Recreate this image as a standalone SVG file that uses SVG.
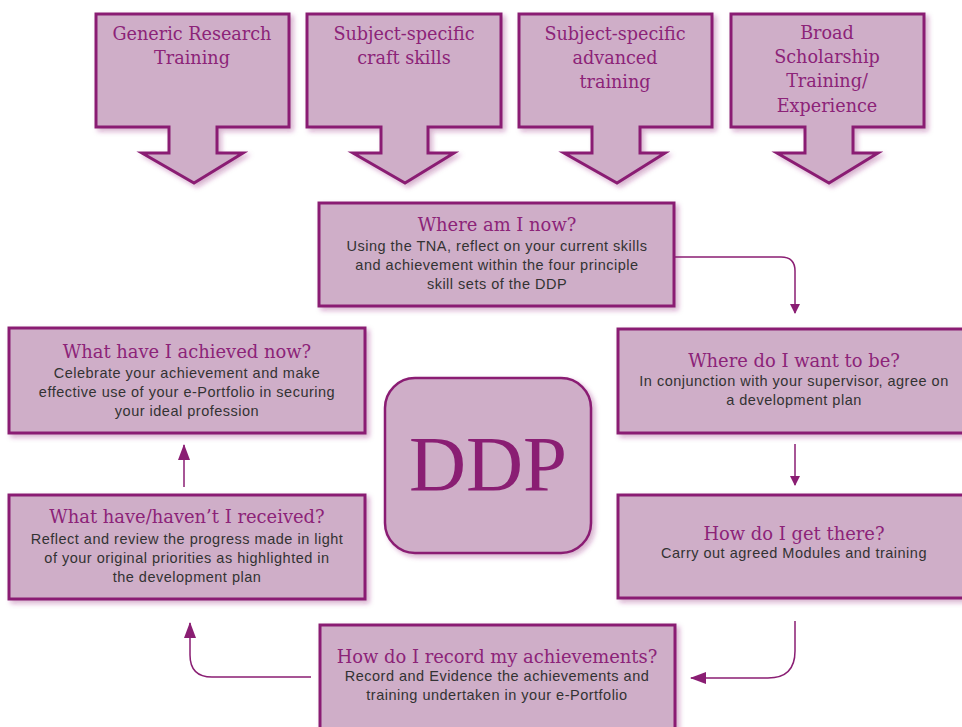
<svg xmlns="http://www.w3.org/2000/svg" width="962" height="727" viewBox="0 0 962 727">
<defs>
<filter id="sh" x="-10%" y="-10%" width="130%" height="130%">
<feDropShadow dx="3" dy="3" stdDeviation="2.5" flood-color="#8a1e73" flood-opacity="0.35"/>
</filter>
<marker id="ah" viewBox="0 0 10 10" refX="9" refY="5" markerWidth="10" markerHeight="10" markerUnits="userSpaceOnUse" orient="auto">
<path d="M0,0 L10,5 L0,10 Z" fill="#8a1e73"/>
</marker>
<marker id="ahb" viewBox="0 0 16 12" refX="15" refY="6" markerWidth="16" markerHeight="12" markerUnits="userSpaceOnUse" orient="auto">
<path d="M0,0 L16,6 L0,12 Z" fill="#8a1e73"/>
</marker>
</defs>
<style>
.box{fill:#cfaec8;stroke:#8a1e73;stroke-width:3;filter:url(#sh)}
.ddp{fill:#cfaec8;stroke:#8a1e73;stroke-width:2.5;filter:url(#sh)}
.top{font-family:"DejaVu Serif","Liberation Serif",serif;font-size:17.6px;fill:#8c2378;text-anchor:middle}
.ttl{font-family:"DejaVu Serif","Liberation Serif",serif;font-size:17.9px;fill:#8c2378;text-anchor:middle}
.body{font-family:"Liberation Sans",Arial,sans-serif;font-size:14.5px;letter-spacing:0.5px;fill:#333333;text-anchor:middle}
.big{font-family:"Liberation Serif","Times New Roman",serif;font-size:79px;fill:#8a1e73;text-anchor:middle}
.con{fill:none;stroke:#8a1e73;stroke-width:1.5}
</style>

<g id="generic-research">
<path class="box" d="M96,14 H289 V127 H217 V153 H243 L194,183 L142,153 H169 V127 H96 Z"/>
<text class="top" x="192" y="40">Generic Research</text>
<text class="top" x="192" y="64">Training</text>
</g>
<g id="craft-skills">
<path class="box" d="M307,14 H501 V127 H428 V153 H454 L405,183 L353,153 H381 V127 H307 Z"/>
<text class="top" x="404" y="40">Subject-specific</text>
<text class="top" x="404" y="64">craft skills</text>
</g>
<g id="advanced-training">
<path class="box" d="M519,14 H712 V127 H640 V153 H665 L617,183 L564,153 H592 V127 H519 Z"/>
<text class="top" x="615" y="40">Subject-specific</text>
<text class="top" x="615" y="64">advanced</text>
<text class="top" x="615" y="88">training</text>
</g>
<g id="broad-scholarship">
<path class="box" d="M731,14 H924 V127 H853 V153 H878 L829,183 L777,153 H805 V127 H731 Z"/>
<text class="top" x="827" y="39">Broad</text>
<text class="top" x="827" y="63">Scholarship</text>
<text class="top" x="827" y="87">Training/</text>
<text class="top" x="827" y="112">Experience</text>
</g>

<g id="where-now">
<rect class="box" x="319" y="203" width="355" height="103"/>
<text class="ttl" x="497" y="231">Where am I now?</text>
<text class="body" x="497" y="251">Using the TNA, reflect on your current skills</text>
<text class="body" x="497" y="270">and achievement within the four principle</text>
<text class="body" x="497" y="289">skill sets of the DDP</text>
</g>

<g id="where-want">
<rect class="box" x="618" y="329" width="360" height="104"/>
<text class="ttl" x="794" y="367">Where do I want to be?</text>
<text class="body" x="794" y="386">In conjunction with your supervisor, agree on</text>
<text class="body" x="794" y="405">a development plan</text>
</g>

<g id="get-there">
<rect class="box" x="618" y="495" width="360" height="103"/>
<text class="ttl" x="794" y="540">How do I get there?</text>
<text class="body" x="794" y="558">Carry out agreed Modules and training</text>
</g>

<g id="record">
<rect class="box" x="320" y="625" width="355" height="120"/>
<text class="ttl" x="497" y="663">How do I record my achievements?</text>
<text class="body" x="497" y="681">Record and Evidence the achievements and</text>
<text class="body" x="497" y="700">training undertaken in your e-Portfolio</text>
</g>

<g id="received">
<rect class="box" x="9" y="495" width="356" height="104"/>
<text class="ttl" x="187" y="523">What have/haven’t I received?</text>
<text class="body" x="187" y="544">Reflect and review the progress made in light</text>
<text class="body" x="187" y="563">of your original priorities as highlighted in</text>
<text class="body" x="187" y="582">the development plan</text>
</g>

<g id="achieved">
<rect class="box" x="9" y="328" width="356" height="105"/>
<text class="ttl" x="187" y="358">What have I achieved now?</text>
<text class="body" x="187" y="378">Celebrate your achievement and make</text>
<text class="body" x="187" y="397">effective use of your e-Portfolio in securing</text>
<text class="body" x="187" y="416">your ideal profession</text>
</g>

<g id="ddp">
<rect class="ddp" x="385" y="378" width="206" height="175" rx="30" ry="30"/>
<text class="big" x="488" y="490">DDP</text>
</g>

<g id="connectors">
<path class="con" d="M674,257 H781 Q795,257 795,271 V313" marker-end="url(#ah)"/>
<path class="con" d="M795,444 V485" marker-end="url(#ah)"/>
<path class="con" d="M795,621 V651 Q795,678 768,678 H691" marker-end="url(#ahb)"/>
<path class="con" d="M311,677 H212 Q190,677 190,655 V623" marker-end="url(#ahb)"/>
<path class="con" d="M184,487 V445" marker-end="url(#ahb)"/>
</g>
</svg>
